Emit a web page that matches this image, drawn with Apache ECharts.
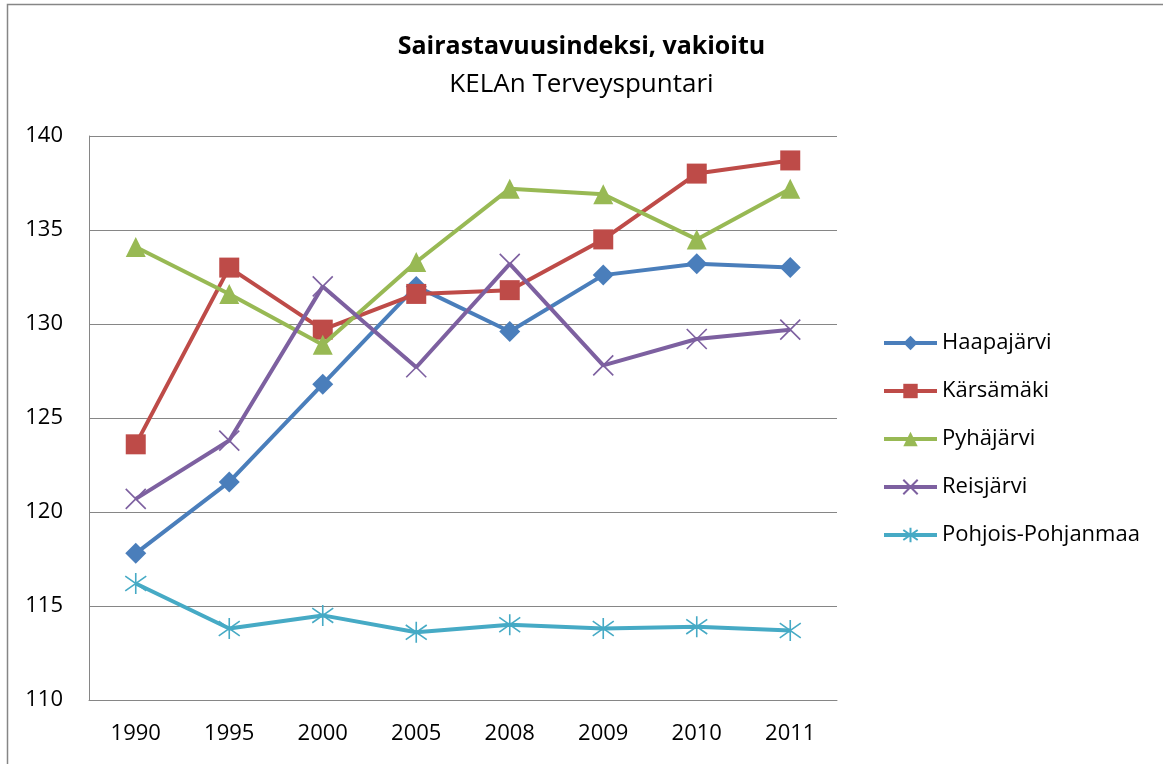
<!DOCTYPE html>
<html>
<head>
<meta charset="utf-8">
<script src="https://cdn.jsdelivr.net/npm/echarts@6/dist/echarts.min.js"></script>
<style>
html,body{margin:0;padding:0;background:#fff;}
#c{width:1163px;height:764px;}
</style>
</head>
<body>
<div id="c"></div>
<script>
const years = ['1990','1995','2000','2005','2008','2009','2010','2011'];
const seriesNames = ['Haapajärvi','Kärsämäki','Pyhäjärvi','Reisjärvi','Pohjois-Pohjanmaa'];
const haapajarvi = [117.8, 121.6, 126.8, 132.0, 129.6, 132.6, 133.2, 133.0];
const karsamaki  = [123.6, 133.0, 129.7, 131.6, 131.8, 134.5, 138.0, 138.7];
const pyhajarvi  = [134.1, 131.6, 128.9, 133.3, 137.2, 136.9, 134.5, 137.2];
const reisjarvi  = [120.7, 123.8, 132.0, 127.7, 133.2, 127.8, 129.2, 129.7];
const pohjois    = [116.2, 113.8, 114.5, 113.6, 114.0, 113.8, 113.9, 113.7];
const yTicks = [110, 115, 120, 125, 130, 135, 140];
const titleText = 'Sairastavuusindeksi, vakioitu';
const subtitleText = 'KELAn Terveyspuntari';

const colors = ['#4A7EBB', '#BE4B48', '#98B954', '#7D60A0', '#46AAC5'];
const symbols = [
  'diamond',
  'rect',
  'triangle',
  'path://M0,0L10,10M10,0L0,10',
  'path://M5,0L5,10M0.7,1.5L9.3,8.5M9.3,1.5L0.7,8.5'
];
const symbolSizes = [21, 20, 20, 20, 21];
const allData = [haapajarvi, karsamaki, pyhajarvi, reisjarvi, pohjois];
const font = '"Open Sans", sans-serif';

const chart = echarts.init(document.getElementById('c'), null, {renderer: 'canvas'});
const series = seriesNames.map((n, i) => {
  const isStroke = i >= 3;
  return {
    name: n,
    type: 'line',
    data: allData[i],
    symbol: symbols[i],
    symbolSize: symbolSizes[i],
    showAllSymbol: true,
    lineStyle: {color: colors[i], width: 4},
    itemStyle: isStroke
      ? {color: colors[i], borderColor: colors[i], borderWidth: 1.6}
      : {color: colors[i], borderWidth: 0},
    emphasis: {disabled: true},
    z: 2 + i
  };
});

chart.setOption({
  animation: false,
  backgroundColor: '#fff',
  color: colors,
  title: [
    {text: titleText, left: 'center', top: 32, padding: [0, 0, 0, 12],
     textStyle: {fontFamily: font, fontWeight: 'bold', fontSize: 25, color: '#000', lineHeight: 30}},
    {text: subtitleText, left: 'center', top: 70, padding: [0, 0, 0, 12],
     textStyle: {fontFamily: font, fontWeight: 'normal', fontSize: 26, color: '#000', lineHeight: 30}}
  ],
  grid: {left: 89, right: 326, top: 136, bottom: 64, containLabel: false},
  legend: {
    orient: 'vertical',
    left: 877,
    top: 326,
    itemWidth: 53,
    itemHeight: 18,
    itemGap: 24,
    data: seriesNames,
    lineStyle: {width: 4},
    textStyle: {fontFamily: font, fontSize: 22, color: '#000', lineHeight: 24},
    selectedMode: false
  },
  xAxis: {
    type: 'category',
    data: years,
    boundaryGap: true,
    axisLine: {show: true, lineStyle: {color: '#868686', width: 1}},
    axisTick: {show: false},
    axisLabel: {fontFamily: font, fontSize: 22, color: '#000', margin: 23}
  },
  yAxis: {
    type: 'value',
    min: 110,
    max: 140,
    interval: 5,
    axisLine: {show: true, lineStyle: {color: '#868686', width: 1}},
    axisTick: {show: false},
    splitLine: {show: true, lineStyle: {color: '#868686', width: 1}},
    axisLabel: {fontFamily: font, fontSize: 22, color: '#000', margin: 26,
      formatter: v => yTicks.includes(v) ? String(v) : ''}
  },
  graphic: [
    {type: 'rect', shape: {x: 7.5, y: 4.5, width: 1200, height: 800},
     style: {fill: 'none', stroke: '#868686', lineWidth: 1.5}, silent: true, z: -1}
  ],
  series: series
});
</script>
</body>
</html>
